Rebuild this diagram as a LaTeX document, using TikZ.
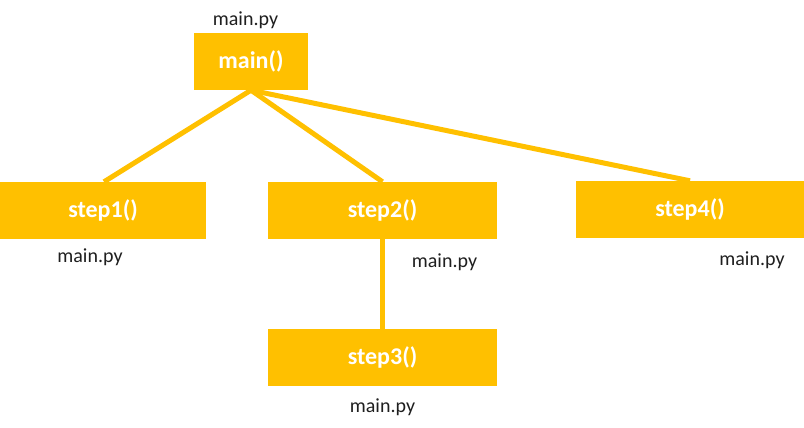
\documentclass[tikz,border=0pt]{standalone}
\usepackage{fontspec}
\setmainfont{Carlito}
\definecolor{gold}{HTML}{FFC000}
\definecolor{txt}{HTML}{1F1F1F}
\begin{document}
\begin{tikzpicture}[x=1pt,y=-1pt,
  box/.style={fill=gold,draw=none,inner sep=0pt,text=white,font=\fontsize{24}{28}\selectfont\bfseries},
  lbl/.style={anchor=base,inner sep=0pt,text=txt,font=\fontsize{20}{24}\selectfont},
  link/.style={draw=gold,line width=5pt}]
\useasboundingbox (0,0) rectangle (804,428);
\fill[white] (0,0) rectangle (804,428);
\node[box,minimum width=114pt,minimum height=57pt] (main) at (251,61.5) {main()};
\node[box,minimum width=206pt,minimum height=57pt] (s1) at (103,210.5) {step1()};
\node[box,minimum width=229pt,minimum height=57pt] (s2) at (382.5,210.5) {step2()};
\node[box,minimum width=228pt,minimum height=57pt] (s4) at (690,209.5) {step4()};
\node[box,minimum width=229pt,minimum height=57pt] (s3) at (382.5,357.5) {step3()};
\node[lbl] (l0) at (245.5,26) {main.py};
\node[lbl] (l1) at (90,262) {main.py};
\node[lbl] (l2) at (444.5,267) {main.py};
\node[lbl] (l4) at (752,265) {main.py};
\node[lbl] (l3) at (382.5,412) {main.py};
\coordinate (mb) at (main.south);
\draw[link] (mb) -- ([xshift=1pt]s1.north);
\draw[link] (mb) -- (s2.north);
\draw[link] (mb) -- (s4.north);
\draw[link] (s2.south) -- (s3.north);
\end{tikzpicture}
\end{document}
